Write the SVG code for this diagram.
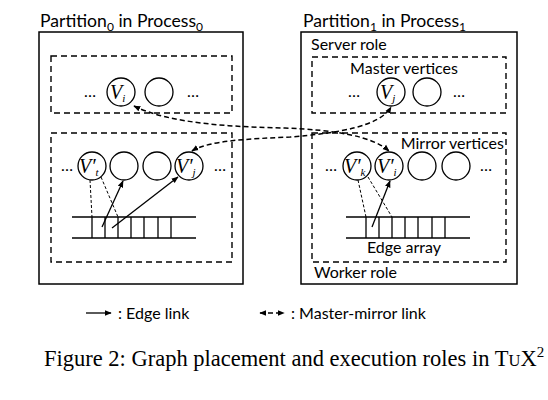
<svg xmlns="http://www.w3.org/2000/svg" width="548" height="400" viewBox="0 0 548 400">
<style>
.lbl{font-family:Lato,"Liberation Sans",sans-serif;font-size:16px;fill:#000}
.ttl{font-family:Lato,"Liberation Sans",sans-serif;font-size:17.6px;fill:#000}
.sub{font-size:12px}
.var{font-family:"Liberation Serif",serif;font-style:italic;font-size:20px;fill:#000}
.vs{font-size:11px}
.outer{fill:none;stroke:#000;stroke-width:1.5}
.dbox{fill:none;stroke:#000;stroke-width:1.4;stroke-dasharray:6,4}
.v{fill:#fff;stroke:#000;stroke-width:1.3}
.arr{fill:none;stroke:#000;stroke-width:1.3}
.thin{fill:none;stroke:#000;stroke-width:1;stroke-dasharray:3,2}
.mm{fill:none;stroke:#000;stroke-width:1.5;stroke-dasharray:5,3}
.cap{font-family:"Liberation Serif",serif;font-size:22.5px;fill:#000}
</style>
<defs>
<marker id="ah" viewBox="0 0 10 10" refX="9" refY="5" markerWidth="7" markerHeight="7" orient="auto-start-reverse" markerUnits="userSpaceOnUse">
<path d="M0,1 L10,5 L0,9 z" fill="#000"/>
</marker>
</defs>

<g id="partition0">
<text class="ttl" x="40" y="27">Partition<tspan class="sub" dy="4">0</tspan><tspan dy="-4"> in Process</tspan><tspan class="sub" dy="4">0</tspan></text>
<rect class="outer" x="39" y="32" width="204" height="252"/>
</g>
<g id="master0">
<rect class="dbox" x="51" y="56" width="181" height="57"/>
<text class="lbl" x="90" y="97" text-anchor="middle">…</text>
<text class="lbl" x="193" y="97" text-anchor="middle">…</text>
</g>
<g id="Vi"><circle class="v" cx="121" cy="92" r="14"/><text class="var" x="110" y="99">V<tspan class="vs" dy="3">i</tspan></text></g>
<g id="master0b"><circle class="v" cx="159" cy="92" r="14"/></g>

<g id="mirror0">
<rect class="dbox" x="51" y="133" width="181" height="129"/>
<text class="lbl" x="67" y="171" text-anchor="middle">…</text>
<text class="lbl" x="220" y="171" text-anchor="middle">…</text>
</g>
<g id="Vt"><circle class="v" cx="92" cy="166" r="14"/><text class="var" x="79" y="173">V′<tspan class="vs" dy="3">t</tspan></text></g>
<g id="m0c2"><circle class="v" cx="124" cy="166" r="14"/></g>
<g id="m0c3"><circle class="v" cx="157" cy="166" r="14"/></g>
<g id="Vj1"><circle class="v" cx="189" cy="166" r="14"/><text class="var" x="176" y="173">V′<tspan class="vs" dy="3">j</tspan></text></g>

<g id="edgearray0" fill="none" stroke="#000" stroke-width="1.3">
<line x1="72" y1="217" x2="196" y2="217"/>
<line x1="72" y1="238" x2="196" y2="238"/>
<path d="M92,217V238M105,217V238M118,217V238M131,217V238M144,217V238M158,217V238M171,217V238"/>
</g>

<g id="partition1">
<text class="ttl" x="303" y="27">Partition<tspan class="sub" dy="4">1</tspan><tspan dy="-4"> in Process</tspan><tspan class="sub" dy="4">1</tspan></text>
<rect class="outer" x="301" y="32" width="216" height="252"/>
<text class="lbl" x="311" y="50">Server role</text>
<text class="lbl" x="314" y="278">Worker role</text>
</g>
<g id="master1">
<rect class="dbox" x="312" y="57" width="194" height="56"/>
<text class="lbl" x="404" y="74" text-anchor="middle">Master vertices</text>
<text class="lbl" x="354" y="97" text-anchor="middle">…</text>
<text class="lbl" x="459" y="97" text-anchor="middle">…</text>
</g>
<g id="Vj"><circle class="v" cx="391" cy="92" r="14"/><text class="var" x="380" y="99">V<tspan class="vs" dy="3">j</tspan></text></g>
<g id="master1b"><circle class="v" cx="427" cy="92" r="14"/></g>

<g id="mirror1">
<rect class="dbox" x="312" y="133" width="194" height="129"/>
<text class="lbl" x="504" y="149" text-anchor="end">Mirror vertices</text>
<text class="lbl" x="331" y="171" text-anchor="middle">…</text>
<text class="lbl" x="486" y="171" text-anchor="middle">…</text>
<text class="lbl" x="404" y="253" text-anchor="middle">Edge array</text>
</g>
<g id="Vk"><circle class="v" cx="357" cy="166" r="14"/><text class="var" x="344" y="173">V′<tspan class="vs" dy="3">k</tspan></text></g>
<g id="Vi1"><circle class="v" cx="389" cy="166" r="14"/><text class="var" x="377" y="173">V′<tspan class="vs" dy="3">i</tspan></text></g>
<g id="m1c3"><circle class="v" cx="422" cy="166" r="14"/></g>
<g id="m1c4"><circle class="v" cx="456" cy="166" r="14"/></g>

<g id="edgearray1" fill="none" stroke="#000" stroke-width="1.3">
<line x1="346" y1="217" x2="470" y2="217"/>
<line x1="346" y1="238" x2="470" y2="238"/>
<path d="M366,217V238M379,217V238M392,217V238M405,217V238M418,217V238M432,217V238M445,217V238"/>
</g>

<g id="connectors">
<line class="thin" x1="90" y1="180" x2="92" y2="217"/>
<line class="thin" x1="101" y1="177" x2="118" y2="217"/>
<line class="arr" x1="102" y1="227" x2="123" y2="181" marker-end="url(#ah)"/>
<line class="arr" x1="112" y1="228" x2="178" y2="177" marker-end="url(#ah)"/>
<line class="thin" x1="358" y1="180" x2="366" y2="217"/>
<line class="thin" x1="368" y1="177" x2="392" y2="217"/>
<line class="arr" x1="372" y1="227" x2="390" y2="181" marker-end="url(#ah)"/>
<path class="mm" d="M134,106 C170,124 235,127 285,128 C335,130 372,136 389,151" marker-start="url(#ah)" marker-end="url(#ah)"/>
<path class="mm" d="M192,151 C210,140 250,139 290,137 C340,133 380,126 391,107" marker-start="url(#ah)" marker-end="url(#ah)"/>
</g>

<g id="legend">
<line class="arr" x1="86" y1="313" x2="111" y2="313" marker-end="url(#ah)"/>
<text class="lbl" x="118" y="319">: Edge link</text>
<line class="mm" x1="260" y1="313" x2="284" y2="313" marker-start="url(#ah)" marker-end="url(#ah)"/>
<text class="lbl" x="291" y="319" font-size="16.5">: Master-mirror link</text>
</g>

<text class="cap" x="44" y="366">Figure 2: Graph placement and execution roles in T<tspan font-size="16.5">U</tspan>X<tspan font-size="15" dy="-9">2</tspan></text>
</svg>
